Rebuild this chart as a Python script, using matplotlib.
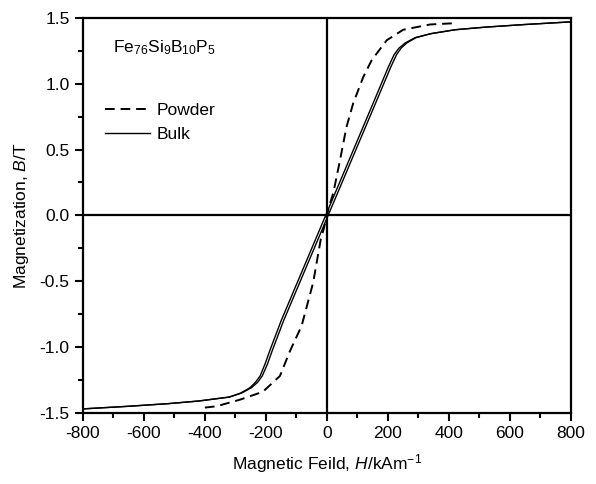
"""Hysteresis loops of Fe76Si9B10P5 powder and bulk samples."""

import matplotlib
matplotlib.use("Agg")
import matplotlib.pyplot as plt
from matplotlib.ticker import MultipleLocator

plt.rcParams["font.family"] = ["Liberation Sans", "DejaVu Sans"]
plt.rcParams["mathtext.fontset"] = "custom"
plt.rcParams["mathtext.rm"] = "Liberation Sans"
plt.rcParams["mathtext.it"] = "Liberation Sans:italic"
plt.rcParams["axes.unicode_minus"] = False

# Bulk loop: two branches sharing the same B levels
bulk_B = [-1.47, -1.45, -1.43, -1.41, -1.38, -1.35, -1.31, -1.27, -1.22,
          -1.13, -1.02, -0.80, -0.40, 0.0, 0.40, 0.80, 1.02, 1.13, 1.22,
          1.27, 1.31, 1.35, 1.38, 1.41, 1.43, 1.45, 1.47]
bulk_H_up = [-800, -650, -520, -420, -320, -280, -248, -228, -212, -195,
             -178, -142, -69, 4, 77, 150, 190, 210, 228, 243, 262, 292,
             340, 420, 520, 650, 800]
bulk_H_down = [-800, -650, -520, -420, -320, -283, -253, -235, -219, -203,
               -186, -150, -77, -4, 69, 142, 182, 202, 220, 236, 257, 289,
               340, 420, 520, 650, 800]

# Powder curve
powder_H = [-400, -362, -285, -210, -154, -121, -83, -45, -20, -10, 0,
            10, 21, 43, 64, 86, 119, 147, 196, 250, 338, 420]
powder_B = [-1.46, -1.45, -1.40, -1.34, -1.22, -1.03, -0.84, -0.51, -0.18,
            -0.10, 0.0, 0.09, 0.17, 0.42, 0.67, 0.85, 1.05, 1.18, 1.33, 1.41,
            1.45, 1.46]


def main() -> None:
    fig = plt.figure(figsize=(5.96, 4.84), dpi=100, facecolor="white")
    ax = fig.add_axes([0.139, 0.147, 0.819, 0.816])

    ax.axhline(0, color="black", lw=1.6, zorder=1)
    ax.axvline(0, color="black", lw=1.6, zorder=1)

    ax.plot(powder_H, powder_B, color="black", lw=1.4, ls=(0, (5, 3)),
            label="Powder", zorder=3)
    ax.plot(bulk_H_up, bulk_B, color="black", lw=1.0, label="Bulk", zorder=3)
    ax.plot(bulk_H_down, bulk_B, color="black", lw=1.0, zorder=3)

    ax.set_xlim(-800, 800)
    ax.set_ylim(-1.5, 1.5)
    ax.xaxis.set_major_locator(MultipleLocator(200))
    ax.xaxis.set_minor_locator(MultipleLocator(100))
    ax.yaxis.set_major_locator(MultipleLocator(0.5))
    ax.yaxis.set_minor_locator(MultipleLocator(0.25))
    ax.yaxis.set_major_formatter(matplotlib.ticker.FormatStrFormatter("%.1f"))
    ax.tick_params(which="both", direction="out", width=1.5, labelsize=12.5,
                   top=False, right=False)
    ax.tick_params(which="major", length=6)
    ax.tick_params(which="minor", length=3.5)
    for sp in ax.spines.values():
        sp.set_linewidth(1.6)

    ax.set_xlabel("Magnetic Feild, $H$/kAm$^{-1}$", fontsize=12.5, labelpad=8)
    ax.set_ylabel("Magnetization, $B$/T", fontsize=12.5, labelpad=6)

    ax.text(0.061, 0.924, "Fe$_{76}$Si$_{9}$B$_{10}$P$_{5}$",
            transform=ax.transAxes, fontsize=12.5, va="center", ha="left")

    ax.legend(loc="upper left", bbox_to_anchor=(0.045, 0.785), frameon=False,
              fontsize=12.5, handlelength=2.6, handletextpad=0.4,
              labelspacing=0.5, borderaxespad=0, borderpad=0)

    fig.savefig("out.png", dpi=100, facecolor="white")
    plt.close(fig)


if __name__ == "__main__":
    main()
